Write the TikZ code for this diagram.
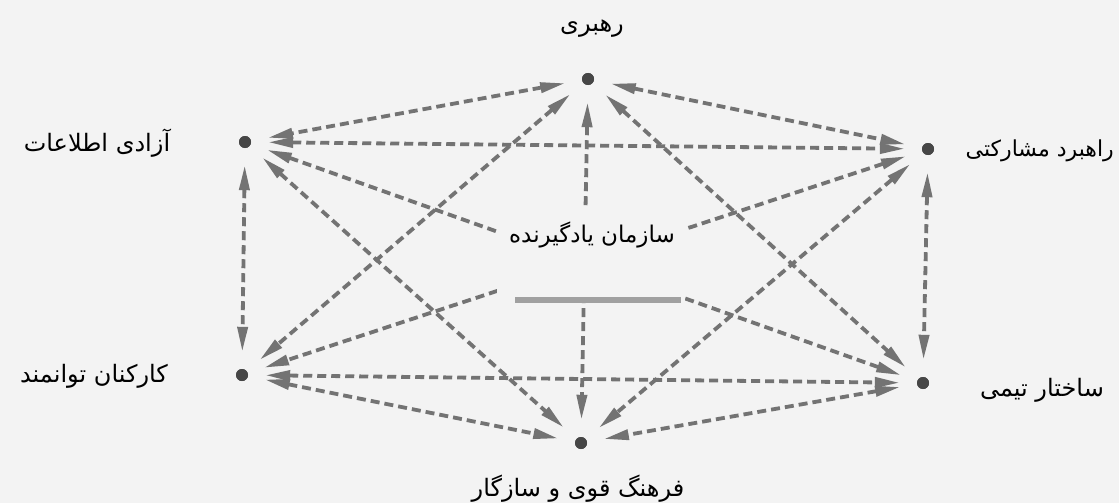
\documentclass[tikz,border=0pt]{standalone}
\usepackage{fontspec}
\usetikzlibrary{arrows.meta}
\newfontfamily\arabicfont[Script=Arabic]{DejaVu Sans}
\TeXXeTstate=1
\definecolor{bg}{RGB}{243,243,243}
\definecolor{dash}{RGB}{115,115,115}
\definecolor{dotc}{RGB}{70,70,70}
\definecolor{bar}{RGB}{160,160,160}
\tikzset{
  dotnode/.style={circle,fill=dotc,inner sep=0pt,minimum size=12pt},
  conn/.style={draw=dash,line width=3.8pt,dash pattern=on 9pt off 5pt,
    {Triangle[length=25pt,width=10pt]}-{Triangle[length=25pt,width=10pt]},
    shorten <=17pt,shorten >=17pt},
  lbl/.style={font=\arabicfont\fontsize{24}{28}\selectfont,inner sep=0pt},
  centerbox/.style={fill=bg,minimum width=188pt,minimum height=95pt,inner sep=0pt}
}
\begin{document}
\begin{tikzpicture}[x=1pt,y=-1pt]
\fill[bg] (0,0) rectangle (1119,503);
\useasboundingbox (0,0) rectangle (1119,503);
\node[dotnode] (T) at (588,79) {};
\node[dotnode] (UL) at (245,142) {};
\node[dotnode] (UR) at (928,149) {};
\node[dotnode] (LL) at (242,375) {};
\node[dotnode] (LR) at (923,383) {};
\node[dotnode] (B) at (581,443) {};
\foreach \a/\b in {T/UL,T/UR,T/LL,T/LR,T/B,UL/UR,UL/LL,UL/LR,UL/B,UR/LL,UR/LR,UR/B,LL/LR,LL/B,LR/B}
  \draw[conn] (\a) -- (\b);
\node[centerbox] (C) at (591,253) {};
\node[lbl,font=\arabicfont\fontsize{23}{28}\selectfont] (Ct) at (592,235) {\beginR سازمان یادگیرنده\endR};
\draw[bar,line width=6pt] (515,300) -- (681,300);
\node[dotnode] at (T) {};
\node[dotnode] at (UL) {};
\node[dotnode] at (UR) {};
\node[dotnode] at (LL) {};
\node[dotnode] at (LR) {};
\node[dotnode] at (B) {};
\node[lbl] (Tl) at (592,29) {\beginR رهبری\endR};
\node[lbl] (ULl) at (97,143) {\beginR آزادی اطلاعات\endR};
\node[lbl,anchor=east,font=\arabicfont\fontsize{22}{28}\selectfont] (URl) at (1114,151) {\beginR راهبرد مشارکتی\endR};
\node[lbl] (LLl) at (94,376) {\beginR کارکنان توانمند\endR};
\node[lbl] (LRl) at (1042,390) {\beginR ساختار تیمی\endR};
\node[lbl] (Bl) at (578,489) {\beginR فرهنگ قوی و سازگار\endR};
\end{tikzpicture}
\end{document}
